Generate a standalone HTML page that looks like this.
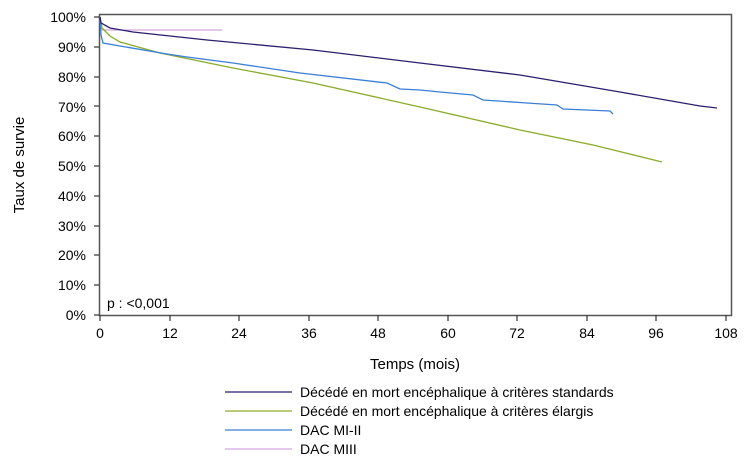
<!DOCTYPE html>
<html><head><meta charset="utf-8"><style>body{margin:0;background:#fff}svg{display:block;font-family:"Liberation Sans",sans-serif}</style></head><body>
<svg width="745" height="466" viewBox="0 0 745 466">
<rect x="99.5" y="14.5" width="632" height="301" fill="none" stroke="#555" stroke-width="1.5"/>
<g font-size="14" fill="#000" text-anchor="end">
<text x="86" y="22">100%</text><text x="86" y="52">90%</text><text x="86" y="82">80%</text><text x="86" y="112">70%</text><text x="86" y="141">60%</text><text x="86" y="171">50%</text><text x="86" y="201">40%</text><text x="86" y="231">30%</text><text x="86" y="260">20%</text><text x="86" y="290">10%</text><text x="86" y="320">0%</text>
</g>
<g stroke="#333" stroke-width="1.2">
<line x1="94" y1="17" x2="99" y2="17"/><line x1="94" y1="47" x2="99" y2="47"/><line x1="94" y1="77" x2="99" y2="77"/><line x1="94" y1="106" x2="99" y2="106"/><line x1="94" y1="136" x2="99" y2="136"/><line x1="94" y1="166" x2="99" y2="166"/><line x1="94" y1="196" x2="99" y2="196"/><line x1="94" y1="226" x2="99" y2="226"/><line x1="94" y1="255" x2="99" y2="255"/><line x1="94" y1="285" x2="99" y2="285"/><line x1="94" y1="315" x2="99" y2="315"/>
<line x1="100" y1="315" x2="100" y2="321"/><line x1="170" y1="315" x2="170" y2="321"/><line x1="239" y1="315" x2="239" y2="321"/><line x1="309" y1="315" x2="309" y2="321"/><line x1="378" y1="315" x2="378" y2="321"/><line x1="448" y1="315" x2="448" y2="321"/><line x1="517" y1="315" x2="517" y2="321"/><line x1="587" y1="315" x2="587" y2="321"/><line x1="656" y1="315" x2="656" y2="321"/><line x1="726" y1="315" x2="726" y2="321"/>
</g>
<g font-size="14" text-anchor="middle">
<text x="100" y="338">0</text><text x="170" y="338">12</text><text x="239" y="338">24</text><text x="309" y="338">36</text><text x="378" y="338">48</text><text x="448" y="338">60</text><text x="517" y="338">72</text><text x="587" y="338">84</text><text x="656" y="338">96</text><text x="726" y="338">108</text>
</g>
<text x="415" y="369" font-size="15" text-anchor="middle">Temps (mois)</text>
<text transform="translate(24,165) rotate(-90)" font-size="15" text-anchor="middle">Taux de survie</text>
<text x="107" y="308" font-size="14">p : &lt;0,001</text>
<g fill="none" stroke-width="1.3">
<polyline stroke="#d8a8e0" points="100,20 102,30 222,30"/>
<polyline stroke="#8aab2a" points="100,17 102,28 110,36 120,42 160,53 233,68 313,83 420,107 520,130 593,145 662,162"/>
<polyline stroke="#3a7fd5" points="100,17 101,35 103,43 120,46 167,54 187,57 233,63 300,73 387,83 400,89 420,90 440,92 473,95 483,100 527,103 557,105 563,109 610,111 613,114"/>
<polyline stroke="#2a1f6e" points="100,17 101,23 110,28 133,32 207,40 313,50 420,63 520,75 620,92 700,106 717,108"/>
</g>
<g stroke-width="1.3">
<line x1="225" y1="392" x2="292" y2="392" stroke="#2a1f6e"/>
<line x1="225" y1="411" x2="292" y2="411" stroke="#8aab2a"/>
<line x1="225" y1="430" x2="292" y2="430" stroke="#3a7fd5"/>
<line x1="225" y1="449" x2="292" y2="449" stroke="#d8a8e0"/>
</g>
<g font-size="14">
<text x="300" y="397">Décédé en mort encéphalique à critères standards</text>
<text x="300" y="416">Décédé en mort encéphalique à critères élargis</text>
<text x="300" y="435">DAC MI-II</text>
<text x="300" y="454">DAC MIII</text>
</g>
</svg>
</body></html>
